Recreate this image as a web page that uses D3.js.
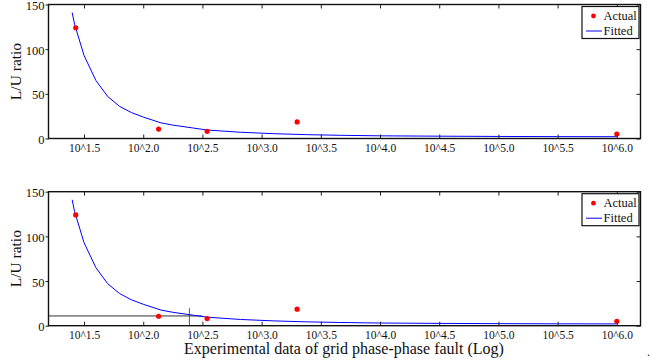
<!DOCTYPE html>
<html>
<head>
<meta charset="utf-8">
<script src="https://cdn.jsdelivr.net/npm/d3@7"></script>
<style>
  body { margin: 0; background: #fff; }
  svg text { font-family: 'Liberation Serif', 'DejaVu Serif', serif; fill: #111; }
</style>
</head>
<body>
<div id="myPlot"></div>
<script>
// Actual measurements (x in log10 units)
const actualX = [1.43, 2.13, 2.54, 3.30, 6.00];
const actualY = [124, 10.6, 8.0, 18.5, 5.0];

// fitted curve samples
const fittedX = [1.40, 1.42, 1.50, 1.60, 1.70, 1.80, 1.90, 2.00, 2.15, 2.25, 2.54, 2.82, 3.10, 3.38, 3.66, 4.0, 4.5, 5.0, 5.5, 6.0];
const fittedY = [141, 128, 93, 65, 47, 36, 29, 24, 17.5, 15, 9.5, 7, 5.4, 4.3, 3.6, 3.0, 2.6, 2.3, 2.1, 2.0];

// x tick labels
const xTicks = [1.5, 2.0, 2.5, 3.0, 3.5, 4.0, 4.5, 5.0, 5.5, 6.0];
const xTickLabels = ['10^1.5', '10^2.0', '10^2.5', '10^3.0', '10^3.5', '10^4.0', '10^4.5', '10^5.0', '10^5.5', '10^6.0'];
const yTicks = [0, 50, 100, 150];

// crosshair in lower panel
const crossX = [1.2, 2.5];   // horizontal line span
const crossLevel = 10.9;
const crossAt = 2.39;        // vertical line position
const crossTop = 19.5;

const legendLabels = ['Actual', 'Fitted'];

const width = 652, height = 364;
const margin = { left: 48.5, right: 11.5 };

const svg = d3.select('#myPlot')
  .append('svg')
    .attr('width', width)
    .attr('height', height);

const x = d3.scaleLinear()
  .domain([1.2, 6.2])
  .range([margin.left, width - margin.right]);

function drawPanel(top, bottom, withCross) {
  const y = d3.scaleLinear()
    .domain([0, 150])
    .range([bottom, top]);

  const g = svg.append('g');

  // crosshair lines (bottom panel only)
  if (withCross) {
    g.append('line')
      .attr('x1', x(crossX[0])).attr('x2', x(crossX[1]))
      .attr('y1', y(crossLevel)).attr('y2', y(crossLevel))
      .attr('stroke', '#333').attr('stroke-width', 1);
    g.append('line')
      .attr('x1', x(crossAt)).attr('x2', x(crossAt))
      .attr('y1', y(0)).attr('y2', y(crossTop))
      .attr('stroke', '#555').attr('stroke-width', 1);
  }

  // fitted line
  const line = d3.line()
    .x((d, i) => x(fittedX[i]))
    .y((d) => y(d));
  g.append('path')
    .datum(fittedY)
    .attr('d', line)
    .attr('fill', 'none')
    .attr('stroke', '#0000ff')
    .attr('stroke-width', 1);

  // actual points
  g.selectAll('circle.pt')
    .data(actualY)
    .enter()
    .append('circle')
      .attr('class', 'pt')
      .attr('cx', (d, i) => x(actualX[i]))
      .attr('cy', (d) => y(d))
      .attr('r', 2.6)
      .attr('fill', '#ff0000');

  // axes: bottom/top ticks inward, left outward, right inward
  const xb = g.append('g')
    .attr('transform', 'translate(0,' + bottom + ')')
    .call(d3.axisBottom(x).tickValues(xTicks).tickSize(-4).tickPadding(5)
      .tickFormat((d, i) => xTickLabels[i]));
  xb.selectAll('text').style('font-size', '11.5px').attr('fill', '#111');

  g.append('g')
    .attr('transform', 'translate(0,' + top + ')')
    .call(d3.axisTop(x).tickValues(xTicks).tickSize(-4).tickFormat(''));

  const yl = g.append('g')
    .attr('transform', 'translate(' + margin.left + ',0)')
    .call(d3.axisLeft(y).tickValues(yTicks).tickSize(3).tickPadding(1));
  yl.selectAll('text').style('font-size', '12.5px').attr('fill', '#111')
    .attr('dy', '0.4em');

  g.append('g')
    .attr('transform', 'translate(' + (width - margin.right) + ',0)')
    .call(d3.axisRight(y).tickValues(yTicks).tickSize(-4).tickFormat(''));

  g.selectAll('.tick line').attr('stroke', '#222');
  g.selectAll('.domain').remove();

  // frame
  g.append('rect')
    .attr('x', margin.left).attr('y', top)
    .attr('width', width - margin.right - margin.left)
    .attr('height', bottom - top)
    .attr('fill', 'none')
    .attr('stroke', '#111')
    .attr('stroke-width', 1.4);

  // y label
  g.append('text')
    .attr('transform', 'translate(21,' + (top + bottom) / 2 + ')rotate(-90)')
    .attr('text-anchor', 'middle')
    .style('font-size', '15.5px')
    .text('L/U ratio');

  // legend
  const lx = 582, ly = top + 2;
  const leg = g.append('g');
  leg.append('rect')
    .attr('x', lx).attr('y', ly)
    .attr('width', 57).attr('height', 32)
    .attr('fill', '#fff')
    .attr('stroke', '#111')
    .attr('stroke-width', 1.2);
  leg.append('circle')
    .attr('cx', lx + 11.5).attr('cy', ly + 9.5)
    .attr('r', 2.4)
    .attr('fill', '#ff0000');
  leg.append('line')
    .attr('x1', lx + 4).attr('x2', lx + 20)
    .attr('y1', ly + 24.5).attr('y2', ly + 24.5)
    .attr('stroke', '#0000ff').attr('stroke-width', 1);
  leg.selectAll('text.lg')
    .data(legendLabels)
    .enter()
    .append('text')
      .attr('class', 'lg')
      .attr('x', lx + 21.5)
      .attr('y', (d, i) => ly + 13.5 + i * 15)
      .style('font-size', '12.5px')
      .text((d) => d);
}

drawPanel(4.5, 138.5, false);
drawPanel(191.7, 325.7, true);

svg.append('text')
  .attr('x', 344)
  .attr('y', 354)
  .attr('text-anchor', 'middle')
  .style('font-size', '16px')
  .text('Experimental data of grid phase-phase fault (Log)');

svg.append('text')
  .attr('x', 647)
  .attr('y', 356)
  .style('font-size', '12px')
  .text('.');
</script>
</body>
</html>
